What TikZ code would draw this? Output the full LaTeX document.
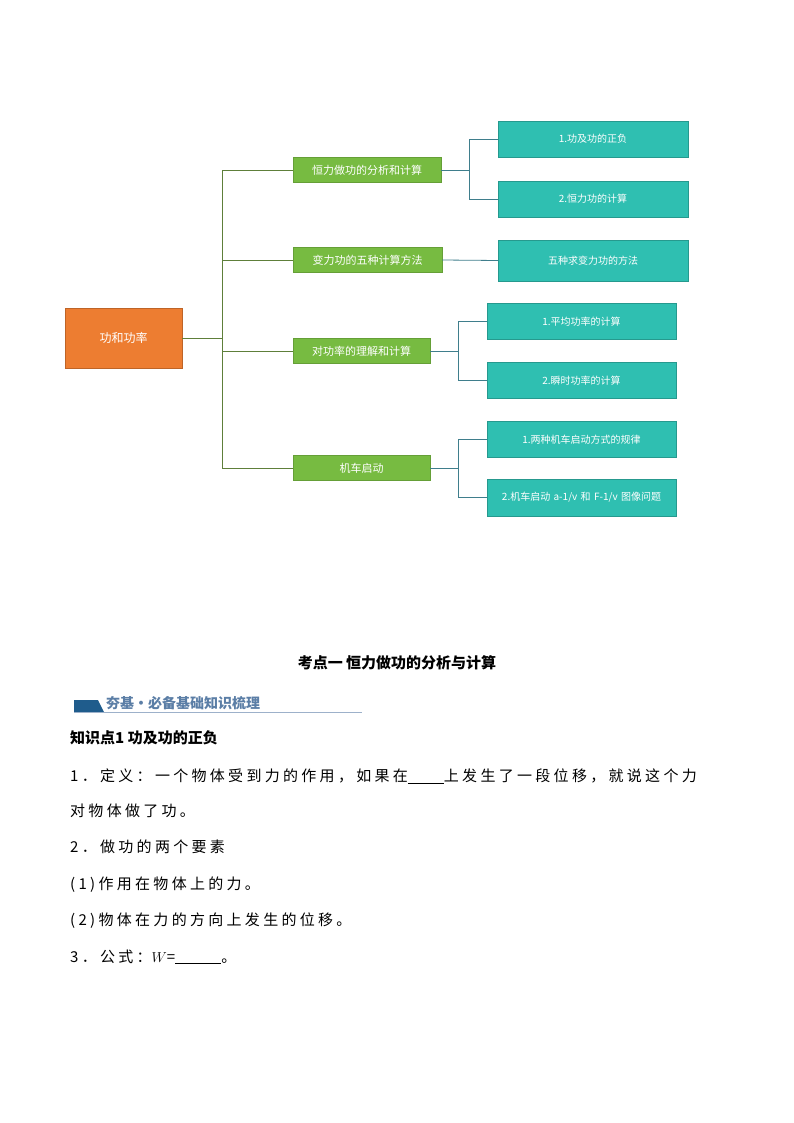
\documentclass[tikz,border=0pt]{standalone}
\usepackage{fontspec}
\newfontfamily\cjk{Noto Sans CJK SC}
\newfontfamily\cjkbody[LetterSpace=22]{Noto Sans CJK SC}
\usepackage{tikz}
\usetikzlibrary{arrows.meta}
\definecolor{rootorange}{HTML}{ED7D31}
\definecolor{leafgreen}{HTML}{77BB41}
\definecolor{leafteal}{HTML}{2FBFB1}
\definecolor{linegreen}{HTML}{5E7F3A}
\definecolor{lineteal}{HTML}{3F7E8C}
\definecolor{bannerblue}{HTML}{1F5C8C}
\definecolor{bannertext}{HTML}{5B7EA6}

\begin{document}
\begin{tikzpicture}[x=1pt,y=-1pt]
	\useasboundingbox (0,0) rectangle (794,1123);
	\fill[white] (0,0) rectangle (794,1123);

	% root
	\node[fill=rootorange,draw=rootorange!80!black,minimum width=117pt,minimum height=60pt,text=white,font=\cjk\fontsize{12}{14}\selectfont] (root) at (123.5,338) {功和功率};

	% second level
	\begin{scope}[every node/.style={fill=leafgreen,draw=leafgreen!85!black,minimum height=25pt,inner sep=2pt,text=white,font=\cjk\fontsize{11}{13}\selectfont}]
		\node[minimum width=148pt] (g1) at (367,170) {恒力做功的分析和计算};
		\node[minimum width=149pt] (g2) at (367.5,260) {变力功的五种计算方法};
		\node[minimum width=137pt] (g3) at (361.5,351) {对功率的理解和计算};
		\node[minimum width=137pt] (g4) at (361.5,468) {机车启动};
	\end{scope}

	% third level
	\begin{scope}[every node/.style={fill=leafteal,draw=leafteal!80!black,minimum width=190pt,minimum height=36pt,inner sep=1pt,text=white,align=center,text width=186pt,font=\cjk\fontsize{10}{12}\selectfont}]
		\node (t1) at (593,139) {1.功及功的正负};
		\node (t2) at (593,199) {2.恒力功的计算};
		\node[minimum height=41pt] (t3) at (593,260.5) {五种求变力功的方法};
		\node[minimum width=189pt,text width=185pt] (t4) at (581.5,321.5) {1.平均功率的计算};
		\node[minimum width=189pt,text width=185pt] (t5) at (581.5,380.5) {2.瞬时功率的计算};
		\node[minimum width=189pt,text width=185pt] (t6) at (581.5,439.5) {1.两种机车启动方式的规律};
		\node[minimum width=189pt,text width=185pt,minimum height=37pt] (t7) at (581.5,497.5) {2.机车启动 a-1/v 和 F-1/v 图像问题};
	\end{scope}

	% connectors
	\coordinate (b0) at (222,338);
	\coordinate (s1) at (469,170);
	\coordinate (s3) at (458,351);
	\coordinate (s4) at (458,468);
	\begin{scope}[draw=linegreen,thick]
		\draw (root.east) -- (b0);
		\draw (b0) |- (g1.west);
		\draw (b0) |- (g2.west);
		\draw (b0) |- (g3.west);
		\draw (b0) |- (g4.west);
	\end{scope}
	\begin{scope}[draw=lineteal,thick]
		\draw (g1.east) -- (s1);
		\draw (s1) |- (t1.west);
		\draw (s1) |- (t2.west);
		\draw (g2.east) -- (t3.west);
		\draw (g3.east) -- (s3);
		\draw (s3) |- (t4.west);
		\draw (s3) |- (t5.west);
		\draw (g4.east) -- (s4);
		\draw (s4) |- (t6.west);
		\draw (s4) |- (t7.west);
	\end{scope}

	% text below
	\node[font=\cjk\bfseries\fontsize{15}{18}\selectfont] (title) at (397,663) {考点一\ 恒力做功的分析与计算};
	\fill[bannerblue] (74,700) -- (98,700) -- (104,712) -- (74,712) -- cycle;
	\draw[bannertext!60,thin] (74,712.5) -- (362,712.5);
	\node[anchor=west,text=bannertext,font=\cjk\bfseries\fontsize{14}{16}\selectfont,inner sep=0pt] (banner) at (106,703) {夯基·必备基础知识梳理};
	\begin{scope}[every node/.style={anchor=west,inner sep=0pt,font=\cjkbody\fontsize{15}{18}\selectfont}]
		\node[font=\cjk\bfseries\fontsize{15}{18}\selectfont] (kp) at (70,738) {知识点1\ 功及功的正负};
		\node (l1) at (70,776) {1．定义：一个物体受到力的作用，如果在\underline{\hspace{36pt}}上发生了一段位移，就说这个力};
		\node (l2) at (70,811) {对物体做了功。};
		\node (l3) at (70,847) {2．做功的两个要素};
		\node (l4) at (70,885) {(1)作用在物体上的力。};
		\node (l5) at (70,921) {(2)物体在力的方向上发生的位移。};
		\node (l6) at (70,957) {3．公式：$W$=\underline{\hspace{46pt}}。};
	\end{scope}
\end{tikzpicture}
\end{document}
